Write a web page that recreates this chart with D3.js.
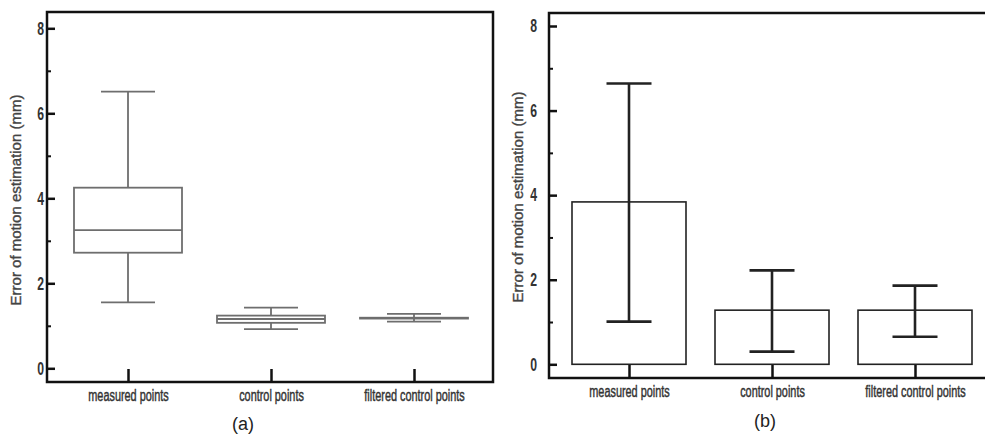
<!DOCTYPE html>
<html>
<head>
<meta charset="utf-8">
<script src="https://cdn.jsdelivr.net/npm/d3@7"></script>
<style>
  body { margin: 0; background: #fff; }
  svg { display: block; }
  .tick text { font-family: "Liberation Sans", Arial, sans-serif; fill: #333; }
  .ylab { font-family: "Liberation Sans", Arial, sans-serif; font-size: 15px; fill: #444; stroke: #444; stroke-width: 0.35px; }
  .panel { font-family: "Liberation Sans", Arial, sans-serif; font-size: 18px; fill: #222; }
</style>
</head>
<body>
<svg width="985" height="434"></svg>
<script>
  const categories = ['measured points', 'control points', 'filtered control points'];

  // panel (a): box plot
  const boxMin = [1.55, 0.92, 1.10];
  const boxQ1 = [2.72, 1.07, 1.17];
  const boxMedian = [3.25, 1.16, 1.18];
  const boxQ3 = [4.25, 1.24, 1.19];
  const boxMax = [6.51, 1.43, 1.28];

  // panel (b): mean bars with error bars
  const barMean = [3.84, 1.28, 1.28];
  const errLow = [1.01, 0.30, 0.65];
  const errHigh = [6.64, 2.22, 1.86];

  const yTicks = [0, 2, 4, 6, 8];
  const yMinorTicks = [1, 3, 5, 7];

  const svg = d3.select('svg');

  function drawFrame(g, x, y, frame, labelX, labelY, letter, letterX, letterY, padLeft) {
    g.append('rect')
      .attr('x', frame[0]).attr('y', frame[1])
      .attr('width', frame[2] - frame[0]).attr('height', frame[3] - frame[1])
      .attr('fill', 'none').attr('stroke', '#111').attr('stroke-width', 2.5);

    const yAxis = g.append('g')
      .attr('transform', `translate(${frame[0]},0)`)
      .call(d3.axisLeft(y).tickValues(yTicks).tickSize(-8).tickPadding(0).tickFormat(d3.format('d')));
    yAxis.select('.domain').remove();
    yAxis.selectAll('line').attr('stroke', '#111').attr('stroke-width', 2.5);
    // narrow, tall digits like the original figure
    yAxis.selectAll('text')
      .attr('font-size', 18)
      .attr('font-weight', 'bold')
      .attr('fill', '#444')
      .attr('x', null)
      .attr('transform', `translate(${-padLeft},0) scale(0.68,1)`);

    const yMinor = g.append('g')
      .attr('transform', `translate(${frame[0]},0)`)
      .call(d3.axisLeft(y).tickValues(yMinorTicks).tickSize(-4).tickFormat(''));
    yMinor.select('.domain').remove();
    yMinor.selectAll('line').attr('stroke', '#111').attr('stroke-width', 2);

    const xAxis = g.append('g')
      .attr('transform', `translate(0,${frame[3]})`)
      .call(d3.axisBottom(x).tickSize(-13).tickPadding(8));
    xAxis.select('.domain').remove();
    xAxis.selectAll('line').attr('stroke', '#111').attr('stroke-width', 2.5);
    xAxis.selectAll('text')
      .attr('font-size', 16)
      .attr('stroke', '#333').attr('stroke-width', 0.45)
      .attr('transform', 'scale(0.68,1)');

    g.append('text')
      .attr('class', 'ylab')
      .attr('transform', `translate(${labelX},${labelY}) rotate(-90)`)
      .attr('text-anchor', 'middle')
      .attr('dy', '0.35em')
      .text('Error of motion estimation (mm)');

    g.append('text')
      .attr('class', 'panel')
      .attr('x', letterX).attr('y', letterY)
      .attr('text-anchor', 'middle')
      .text(letter);
  }

  // ---- panel (a)
  const xa = d3.scalePoint().domain(categories).range([128, 414]);
  const ya = d3.scaleLinear().domain([0, 8]).range([368.3, 28.3]);
  const ga = svg.append('g');
  const boxW = 108, capA = 54;

  const boxes = categories.map((c, i) => ({
    c, min: boxMin[i], q1: boxQ1[i], med: boxMedian[i], q3: boxQ3[i], max: boxMax[i]
  }));

  const bx = ga.selectAll('g.box').data(boxes).enter().append('g')
    .attr('class', 'box')
    .attr('stroke', '#6e6e6e').attr('stroke-width', 1.8).attr('fill', 'none');

  bx.append('line')
    .attr('x1', d => xa(d.c)).attr('x2', d => xa(d.c))
    .attr('y1', d => ya(d.max)).attr('y2', d => ya(d.q3));
  bx.append('line')
    .attr('x1', d => xa(d.c)).attr('x2', d => xa(d.c))
    .attr('y1', d => ya(d.q1)).attr('y2', d => ya(d.min));
  bx.append('line')
    .attr('x1', d => xa(d.c) - capA / 2).attr('x2', d => xa(d.c) + capA / 2)
    .attr('y1', d => ya(d.max)).attr('y2', d => ya(d.max));
  bx.append('line')
    .attr('x1', d => xa(d.c) - capA / 2).attr('x2', d => xa(d.c) + capA / 2)
    .attr('y1', d => ya(d.min)).attr('y2', d => ya(d.min));
  bx.append('rect')
    .attr('x', d => xa(d.c) - boxW / 2).attr('width', boxW)
    .attr('y', d => ya(d.q3)).attr('height', d => ya(d.q1) - ya(d.q3));
  bx.append('line')
    .attr('x1', d => xa(d.c) - boxW / 2).attr('x2', d => xa(d.c) + boxW / 2)
    .attr('y1', d => ya(d.med)).attr('y2', d => ya(d.med));

  drawFrame(ga, xa, ya, [47, 12, 493, 382], 16, 200, '(a)', 243, 430, 3);

  // ---- panel (b)
  const xb = d3.scalePoint().domain(categories).range([629, 915]);
  const yb = d3.scaleLinear().domain([0, 8]).range([364.3, 26]);
  const gb = svg.append('g');
  const barW = 114, capB = 45;

  const bars = categories.map((c, i) => ({ c, mean: barMean[i], lo: errLow[i], hi: errHigh[i] }));

  gb.selectAll('rect.bar').data(bars).enter().append('rect')
    .attr('class', 'bar')
    .attr('x', d => xb(d.c) - barW / 2).attr('width', barW)
    .attr('y', d => yb(d.mean)).attr('height', d => yb(0) - yb(d.mean))
    .attr('fill', '#fff').attr('stroke', '#222').attr('stroke-width', 1.6);

  const eb = gb.selectAll('g.err').data(bars).enter().append('g')
    .attr('class', 'err').attr('stroke', '#222').attr('stroke-width', 2.6);
  eb.append('line')
    .attr('x1', d => xb(d.c)).attr('x2', d => xb(d.c))
    .attr('y1', d => yb(d.hi)).attr('y2', d => yb(d.lo));
  eb.append('line')
    .attr('x1', d => xb(d.c) - capB / 2).attr('x2', d => xb(d.c) + capB / 2)
    .attr('y1', d => yb(d.hi)).attr('y2', d => yb(d.hi));
  eb.append('line')
    .attr('x1', d => xb(d.c) - capB / 2).attr('x2', d => xb(d.c) + capB / 2)
    .attr('y1', d => yb(d.lo)).attr('y2', d => yb(d.lo));

  drawFrame(gb, xb, yb, [549, 13, 1000, 378], 518, 197, '(b)', 765, 427, 12);
</script>
</body>
</html>
